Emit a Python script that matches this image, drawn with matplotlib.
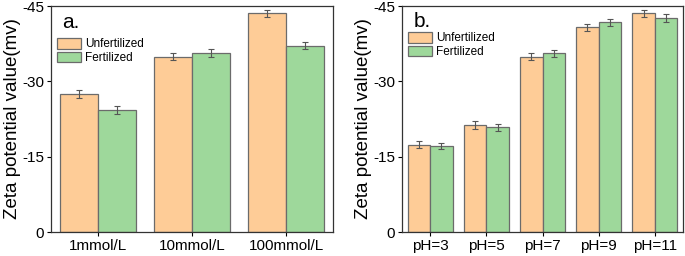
import numpy as np
import matplotlib
matplotlib.use('Agg')
import matplotlib.pyplot as plt

plt.rcParams['font.family'] = ['Liberation Sans', 'DejaVu Sans']

# panel a: ionic strength
conc_labels = ['1mmol/L', '10mmol/L', '100mmol/L']
conc_unfert = [27.4, 34.9, 43.6]
conc_fert = [24.2, 35.6, 37.1]
conc_unfert_err = [0.8, 0.7, 0.7]
conc_fert_err = [0.8, 0.8, 0.7]

# panel b: pH
ph_labels = ['pH=3', 'pH=5', 'pH=7', 'pH=9', 'pH=11']
ph_unfert = [17.4, 21.3, 34.9, 40.8, 43.6]
ph_fert = [17.2, 20.9, 35.6, 41.8, 42.6]
ph_unfert_err = [0.7, 0.8, 0.7, 0.7, 0.7]
ph_fert_err = [0.6, 0.7, 0.7, 0.7, 0.8]

y_ticks = [0, 15, 30, 45]
y_ticklabels = ['0', '-15', '-30', '-45']

c_unf = '#FECC97'
c_fer = '#9ED89B'
edge = '#6b6b6b'

fig = plt.figure(figsize=(6.85, 2.56), dpi=100)
ax1 = fig.add_axes([51/685, 24/256, 282/685, 226/256])
ax2 = fig.add_axes([402/685, 24/256, 281/685, 226/256])


def panel(ax, labels, unf, fer, unf_err, fer_err, tag, tag_y, leg_y):
    x = np.arange(len(labels))
    w = 0.4
    ekw = dict(ecolor='#555555', elinewidth=0.8, capsize=2, capthick=0.8)
    ax.bar(x - w/2, unf, w, color=c_unf, edgecolor=edge, linewidth=0.9,
           yerr=unf_err, error_kw=ekw, label='Unfertilized')
    ax.bar(x + w/2, fer, w, color=c_fer, edgecolor=edge, linewidth=0.9,
           yerr=fer_err, error_kw=ekw, label='Fertilized')
    ax.set_xlim(-0.5, len(labels) - 0.5)
    ax.set_ylim(0, 45)
    ax.set_xticks(x)
    ax.set_xticklabels(labels, fontsize=11)
    ax.set_yticks(y_ticks)
    ax.set_yticklabels(y_ticklabels, fontsize=11)
    ax.tick_params(direction='out', length=3, width=0.8, pad=2)
    for s in ax.spines.values():
        s.set_linewidth(0.9)
        s.set_color('#333333')
    ax.set_ylabel('Zeta potential value(mv)', fontsize=13.5, labelpad=1)
    ax.text(0.04, tag_y, tag, transform=ax.transAxes, fontsize=15,
            va='baseline', ha='left')
    ax.legend(loc='upper left', bbox_to_anchor=(0.02, leg_y), frameon=False,
              fontsize=8.5, handlelength=2.1, handleheight=1.0,
              handletextpad=0.3, labelspacing=0.12, borderpad=0,
              borderaxespad=0)


panel(ax1, conc_labels, conc_unfert, conc_fert, conc_unfert_err,
      conc_fert_err, 'a.', 0.903, 0.858)
panel(ax2, ph_labels, ph_unfert, ph_fert, ph_unfert_err,
      ph_fert_err, 'b.', 0.907, 0.885)

fig.savefig('out.png', dpi=100)
